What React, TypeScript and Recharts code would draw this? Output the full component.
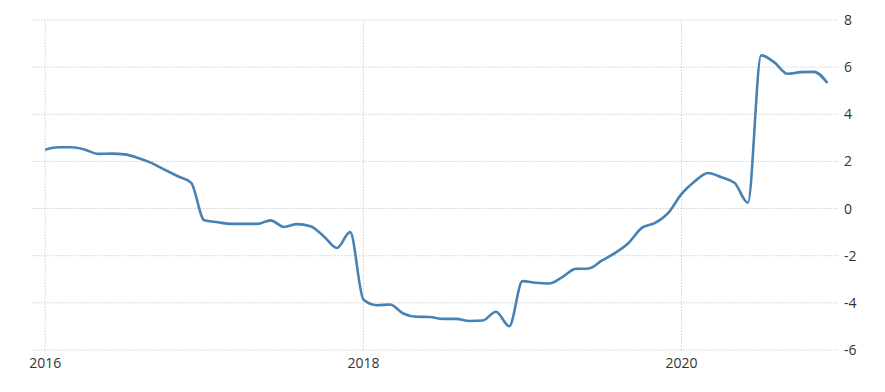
import React from 'react';
import { LineChart, Line, XAxis, YAxis, CartesianGrid, ReferenceLine } from 'recharts';

// monthly values, Jan 2016 .. Dec 2020
const VALUES = [
  2.5, 2.6, 2.6, 2.5, 2.32, 2.33, 2.3, 2.15, 1.94, 1.65, 1.37, 1.1,
  -0.5, -0.58, -0.65, -0.65, -0.65, -0.5, -0.78, -0.66, -0.75, -1.17, -1.67, -1.0,
  -3.86, -4.1, -4.07, -4.45, -4.59, -4.6, -4.68, -4.68, -4.77, -4.75, -4.38, -4.99,
  -3.08, -3.15, -3.18, -2.91, -2.56, -2.54, -2.2, -1.88, -1.46, -0.82, -0.61, -0.18,
  0.62, 1.16, 1.51, 1.33, 1.09, 0.25, 6.5, 6.2, 5.72, 5.79, 5.8, 5.33,
];

const START_YEAR = 2016;
const X_TICKS = [0, 24, 48];
const Y_TICKS = [-6, -4, -2, 0, 2, 4, 6, 8];

const data = VALUES.map((value, month) => ({ month, value }));

const GRID = '#cfcfcf';
const tickStyle = { fontSize: 14, fill: '#333', fontFamily: '"Open Sans", sans-serif' };

const App: React.FC = () => {
  return (
    <div style={{ position: 'absolute', left: 0, top: 0, background: '#fff' }}>
      <LineChart width={885} height={392} data={data} margin={{ top: 20, right: 0, bottom: 0, left: 32 }}>
        <CartesianGrid stroke={GRID} strokeDasharray="1.5 1.5" vertical={false} />
        {X_TICKS.map((t) => (
          <ReferenceLine key={t} x={t} stroke={GRID} strokeDasharray="1.5 1.5" />
        ))}
        <XAxis
          dataKey="month"
          type="number"
          domain={[-1, 59.8]}
          ticks={X_TICKS}
          tickFormatter={(m: number) => String(START_YEAR + m / 12)}
          axisLine={false}
          tickLine={false}
          tick={tickStyle}
          height={42}
        />
        <YAxis
          orientation="right"
          domain={[-6, 8]}
          ticks={Y_TICKS}
          axisLine={false}
          tickLine={false}
          tick={{ ...tickStyle, textAnchor: 'start' }}
          tickMargin={0}
          width={47}
        />
        <Line
          type="monotone"
          dataKey="value"
          stroke="#4682b4"
          strokeWidth={2.6}
          dot={false}
          isAnimationActive={false}
        />
      </LineChart>
    </div>
  );
};

export default App;
